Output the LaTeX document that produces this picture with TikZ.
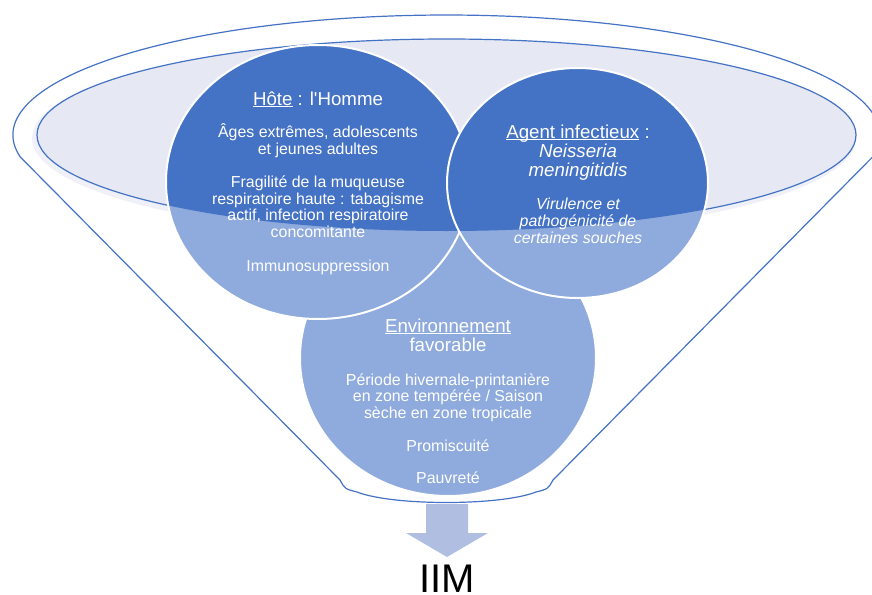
\documentclass[tikz,border=0pt]{standalone}
\usepackage{fontspec}
\setmainfont{Liberation Sans}
\usepackage{tikz}

\definecolor{blobdark}{RGB}{68,114,196}
\definecolor{bloblight}{RGB}{143,170,220}
\definecolor{rimfill}{RGB}{230,233,244}
\definecolor{rimglow}{RGB}{240,241,248}
\definecolor{arrowblue}{RGB}{176,190,226}

\newcommand{\undl}[1]{\setbox0\hbox{#1}\rlap{\rule[-2.2pt]{\wd0}{0.9pt}}\box0\relax}

\begin{document}
\begin{tikzpicture}[x=1pt, y=-1pt,
        rim/.style={draw=blobdark, line width=1.2pt},
        blobrim/.style={draw=white, line width=2pt},
        hdr/.style={text=white, inner sep=0pt, anchor=base, align=center, font=\fontsize{18.7}{19}\selectfont},
        txt/.style={text=white, inner sep=0pt, anchor=base, align=center, font=\fontsize{15.9}{16.4}\selectfont}]
        \useasboundingbox (0,0) rectangle (872,594);

        % funnel
        \draw[rim] (20.3,157) arc[start angle=169.44, end angle=370.56, x radius=433.5, y radius=120]
            -- (553,480) .. controls (548,489) .. (536,492)
            .. controls (500,506) and (393,506) .. (357,492)
            .. controls (345,489) .. (340,480) -- cycle;
        \fill[rimglow] (444,138) ellipse [x radius=412, y radius=99];
        \filldraw[rim, fill=rimfill] (446.5,135) ellipse [x radius=409.5, y radius=96];

        % environnement
        \filldraw[blobrim, fill=bloblight] (448,358) ellipse [x radius=148, y radius=138];

        % hote
        \fill[bloblight] (318,182) ellipse [x radius=152, y radius=137];
        \begin{scope}
            \clip (446.5,135) ellipse [x radius=409.5, y radius=96];
            \fill[blobdark] (318,182) ellipse [x radius=152, y radius=137];
        \end{scope}
        \draw[blobrim] (318,182) ellipse [x radius=152, y radius=137];

        % agent
        \fill[bloblight] (577.5,183) ellipse [x radius=130.5, y radius=115];
        \begin{scope}
            \clip (446.5,135) ellipse [x radius=409.5, y radius=96];
            \fill[blobdark] (577.5,183) ellipse [x radius=130.5, y radius=115];
        \end{scope}
        \draw[blobrim] (577.5,183) ellipse [x radius=130.5, y radius=115];

        % arrow
        \fill[arrowblue] (426,504) -- (468,504) -- (468,533) -- (488,533) -- (447,557)
            -- (406,533) -- (426,533) -- cycle;

        % base = last line
        \node[hdr] (hote) at (318,105) {\undl{Hôte} : l\textquotesingle Homme};
        \node[txt] (hote-age) at (318,154) {Âges extrêmes, adolescents\\et jeunes adultes};
        \node[txt] (hote-muq) at (318,237) {Fragilité de la muqueuse\\respiratoire haute : tabagisme\\actif, infection respiratoire\\concomitante};
        \node[txt] (hote-imm) at (318,271) {Immunosuppression};

        \node[hdr] (agent) at (578,176) {\undl{Agent infectieux} :\\\textit{Neisseria}\\\textit{meningitidis}};
        \node[txt, font=\fontsize{15.9}{17}\selectfont\itshape] (agent-vir) at (578,243) {Virulence et\\pathogénicité de\\certaines souches};

        \node[hdr] (env) at (448,351) {\undl{Environnement}\\favorable};
        \node[txt] (env-sai) at (448,418) {Période hivernale-printanière\\en zone tempérée / Saison\\sèche en zone tropicale};
        \node[txt] (env-pro) at (448,451) {Promiscuité};
        \node[txt] (env-pau) at (448,483) {Pauvreté};

        \node[anchor=base, inner sep=0pt, font=\fontsize{40}{40}\selectfont] (iim) at (447,592) {IIM};
    \end{tikzpicture}
\end{document}
